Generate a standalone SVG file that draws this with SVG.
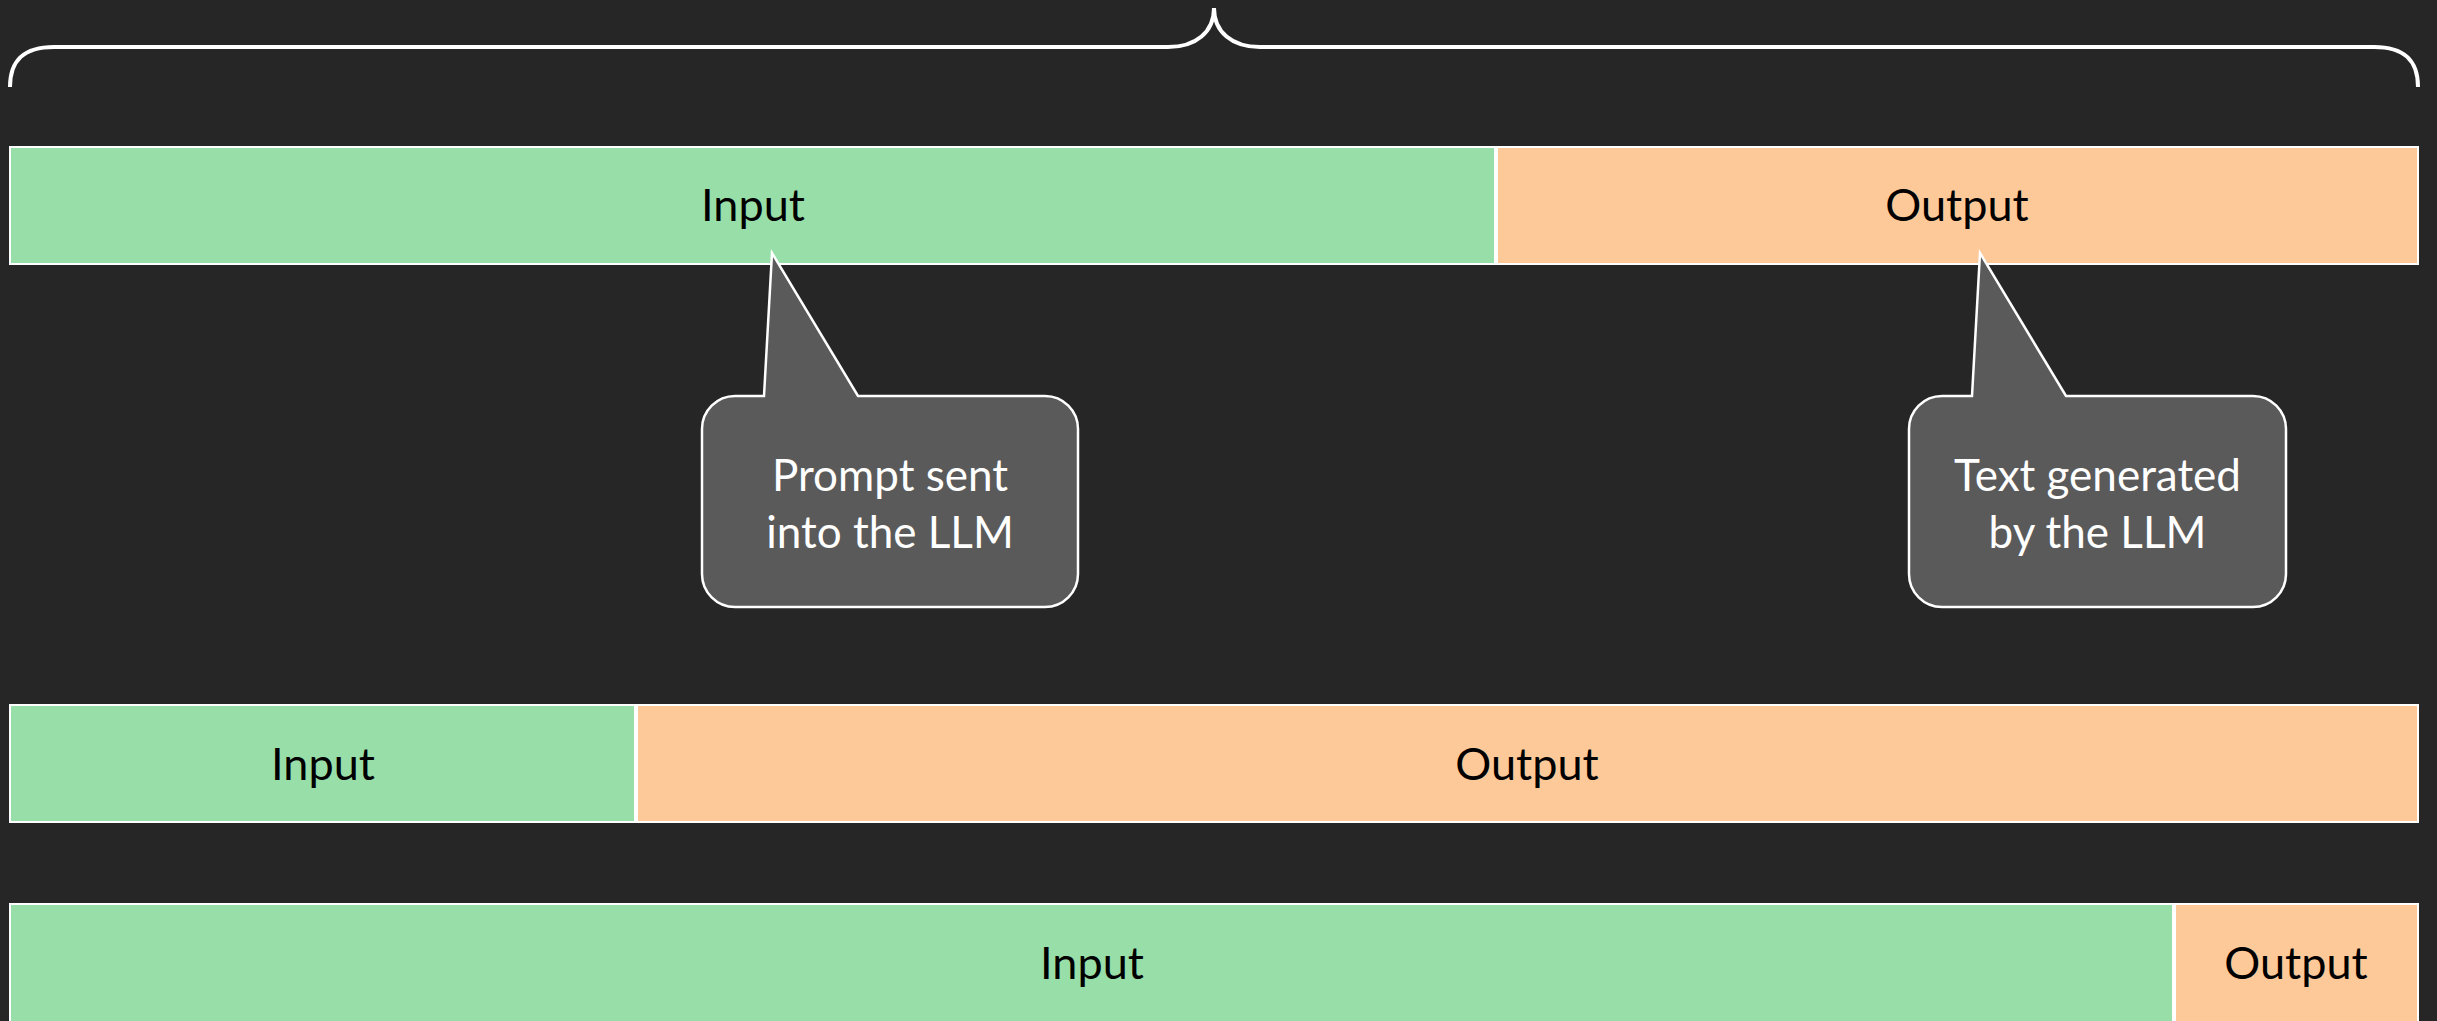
<svg xmlns="http://www.w3.org/2000/svg" width="2437" height="1021" viewBox="0 0 2437 1021">
  <style>
    .bg { fill: #262626; }
    .seg { stroke: #ffffff; stroke-width: 2; }
    .in { fill: #98dea8; }
    .out { fill: #fdc998; }
    .lbl { font-family: Lato, "Liberation Sans", sans-serif; font-size: 45px; fill: #000000; text-anchor: middle; }
    .note { fill: #5a5a5a; stroke: #ffffff; stroke-width: 2.5; stroke-linejoin: miter; }
    .noteText { font-family: Lato, "Liberation Sans", sans-serif; font-size: 44px; fill: #ffffff; text-anchor: middle; }
    .brace { fill: none; stroke: #ffffff; stroke-width: 4; stroke-linecap: butt; }
  </style>

  <rect class="bg" x="0" y="0" width="2437" height="1021"/>

  <!-- brace spanning the whole context window -->
  <g id="brace">
    <path class="brace" d="M 10,87 C 10,60 24,47 54,47 L 1168,47 C 1196,47 1214,32 1214,8 C 1214,32 1232,47 1260,47 L 2374,47 C 2404,47 2418,60 2418,87"/>
  </g>

  <!-- row 1: balanced split -->
  <g id="row1-input">
    <rect class="seg in" x="10" y="147" width="1485" height="117"/>
    <text class="lbl" x="753" y="221">Input</text>
  </g>
  <g id="row1-output">
    <rect class="seg out" x="1497" y="147" width="921" height="117"/>
    <text class="lbl" x="1957" y="221">Output</text>
  </g>

  <!-- row 2: short prompt, long completion -->
  <g id="row2-input">
    <rect class="seg in" x="10" y="705" width="625" height="117"/>
    <text class="lbl" x="323" y="780">Input</text>
  </g>
  <g id="row2-output">
    <rect class="seg out" x="637" y="705" width="1781" height="117"/>
    <text class="lbl" x="1527" y="780">Output</text>
  </g>

  <!-- row 3: long prompt, short completion -->
  <g id="row3-input">
    <rect class="seg in" x="10" y="904" width="2163" height="118"/>
    <text class="lbl" x="1092" y="979">Input</text>
  </g>
  <g id="row3-output">
    <rect class="seg out" x="2175" y="904" width="243" height="118"/>
    <text class="lbl" x="2296" y="979">Output</text>
  </g>

  <!-- speech-bubble callouts pointing at row 1 -->
  <g id="callout-prompt">
    <path class="note" d="M 764,396 L 772,253 L 858,396 L 1045,396 A 33,33 0 0 1 1078,429 L 1078,574 A 33,33 0 0 1 1045,607 L 735,607 A 33,33 0 0 1 702,574 L 702,429 A 33,33 0 0 1 735,396 Z"/>
    <text class="noteText" x="890" y="491">Prompt sent</text>
    <text class="noteText" x="890" y="548">into the LLM</text>
  </g>
  <g id="callout-generated">
    <path class="note" d="M 1972,396 L 1980,253 L 2066,396 L 2253,396 A 33,33 0 0 1 2286,429 L 2286,574 A 33,33 0 0 1 2253,607 L 1942,607 A 33,33 0 0 1 1909,574 L 1909,429 A 33,33 0 0 1 1942,396 Z"/>
    <text class="noteText" x="2097.5" y="491">Text generated</text>
    <text class="noteText" x="2097.5" y="548">by the LLM</text>
  </g>
</svg>
